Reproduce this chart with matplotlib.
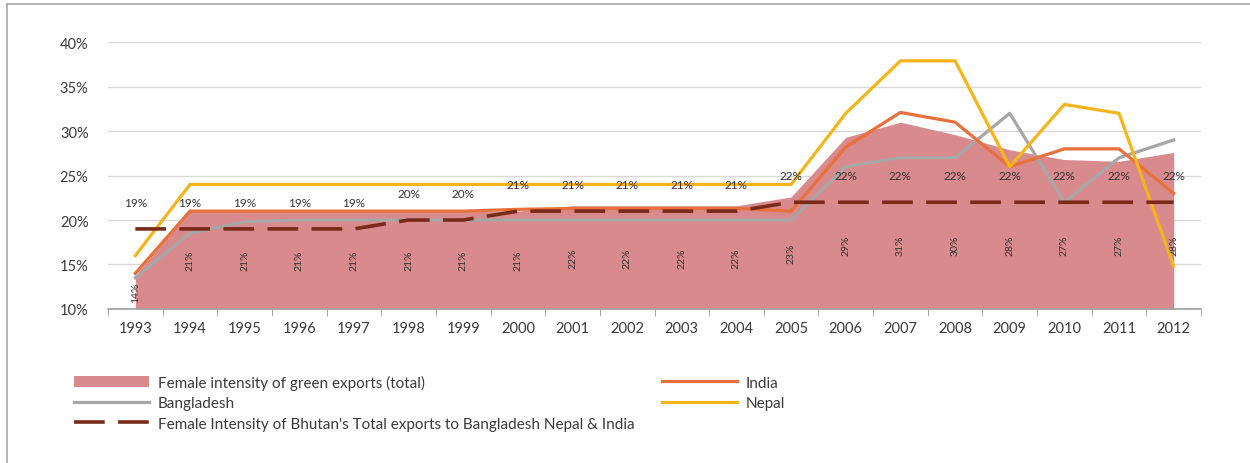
import matplotlib
matplotlib.use("Agg")
import matplotlib.pyplot as plt
from matplotlib.lines import Line2D
from matplotlib.patches import Patch
import numpy as np

plt.rcParams['font.family'] = ['Lato', 'DejaVu Sans']

years = [str(y) for y in range(1993, 2013)]
green_total = [13.8, 21.0, 21.0, 21.0, 21.0, 21.0, 21.0, 21.0, 21.6, 21.6,
               21.6, 21.6, 22.6, 29.3, 31.0, 29.6, 27.9, 26.8, 26.6, 27.6]
india = [14.0, 21.0, 21.0, 21.0, 21.0, 21.0, 21.0, 21.2, 21.3, 21.3,
         21.3, 21.3, 21.0, 28.2, 32.1, 31.0, 26.0, 28.0, 28.0, 23.0]
bangladesh = [13.5, 18.5, 19.8, 20.0, 20.0, 20.0, 20.0, 20.0, 20.0, 20.0,
              20.0, 20.0, 20.0, 26.0, 27.0, 27.0, 32.0, 22.0, 27.0, 29.0]
nepal = [16.0, 24.0, 24.0, 24.0, 24.0, 24.0, 24.0, 24.0, 24.0, 24.0,
         24.0, 24.0, 24.0, 32.0, 37.9, 37.9, 26.0, 33.0, 32.0, 14.8]
bhutan_total = [19, 19, 19, 19, 19, 20, 20, 21, 21, 21,
                21, 21, 22, 22, 22, 22, 22, 22, 22, 22]

c_area = '#D98A8C'
c_india = '#E8703A'
c_bang = '#A6A6A6'
c_nepal = '#F5B51A'
c_bhutan = '#7A2A18'
c_text = '#3A3A3A'

fig = plt.figure(figsize=(12.5, 4.64), dpi=100)
ax = fig.add_axes([0.0864, 0.332, 0.8744, 0.575])
x = np.arange(len(years))

ax.fill_between(x, 10, green_total, color=c_area, lw=0, zorder=1)
ax.plot(x, bangladesh, color=c_bang, lw=2.3, zorder=3)
ax.plot(x, india, color=c_india, lw=2.3, zorder=3)
ax.plot(x, nepal, color=c_nepal, lw=2.3, zorder=4)
ax.plot(x, bhutan_total, color=c_bhutan, lw=2.6, dashes=(8.5, 3.7), zorder=5)

# labels inside the area (rotated) and above the dashed line
for i, v in enumerate(green_total):
    ax.text(i, min((10 + v) / 2, 17.2), '%.0f%%' % v, rotation=90,
            ha='center', va='center', fontsize=7.5, color='#333333', zorder=2)
for i, v in enumerate(bhutan_total):
    ax.text(i, v + 3.0, '%d%%' % v, ha='center', va='center',
            fontsize=8.5, color='#333333', zorder=6)

ax.set_xlim(-0.5, len(years) - 0.5)
ax.set_ylim(10, 40)
ax.set_yticks(range(10, 45, 5))
ax.set_yticklabels(['%d%%' % t for t in range(10, 45, 5)])
ax.set_xticks(x)
ax.set_xticklabels(years)
ax.set_xticks(np.arange(-0.5, len(years), 1), minor=True)
ax.tick_params(axis='x', which='major', length=0, pad=9, labelsize=10.5, colors=c_text)
ax.tick_params(axis='x', which='minor', length=5, color='#A0A0A0', direction='out')
ax.tick_params(axis='y', length=0, pad=14, labelsize=10.5, colors=c_text)
ax.grid(axis='y', color='#D9D9D9', lw=1, zorder=0)
ax.set_axisbelow(True)
for s in ['top', 'right', 'left']:
    ax.spines[s].set_visible(False)
ax.spines['bottom'].set_color('#A0A0A0')
ax.spines['bottom'].set_linewidth(1.2)

handles = [
    Patch(facecolor=c_area, edgecolor='none'),
    Line2D([], [], color=c_bang, lw=2.3),
    Line2D([], [], color=c_bhutan, lw=2.6, dashes=(8.5, 3.7)),
    Line2D([], [], color=c_india, lw=2.3),
    Line2D([], [], color=c_nepal, lw=2.3),
]
labels = [
    'Female intensity of green exports (total)',
    'Bangladesh',
    "Female Intensity of Bhutan's Total exports to Bangladesh Nepal & India",
    'India',
    'Nepal',
]
fig.legend(handles, labels, ncol=2, loc='upper left', bbox_to_anchor=(0.048, 0.22),
           frameon=False, fontsize=11, handlelength=4.9, handleheight=0.8,
           handletextpad=0.6, columnspacing=1.8, labelspacing=0.42,
           labelcolor=c_text)

# partial outer frame
fig.add_artist(Line2D([0.0056, 0.0056], [0.0, 0.989], color='#A8A8A8', lw=1.2))
fig.add_artist(Line2D([0.0056, 1.0], [0.989, 0.989], color='#A8A8A8', lw=1.2))

fig.savefig('out.png', dpi=100)
